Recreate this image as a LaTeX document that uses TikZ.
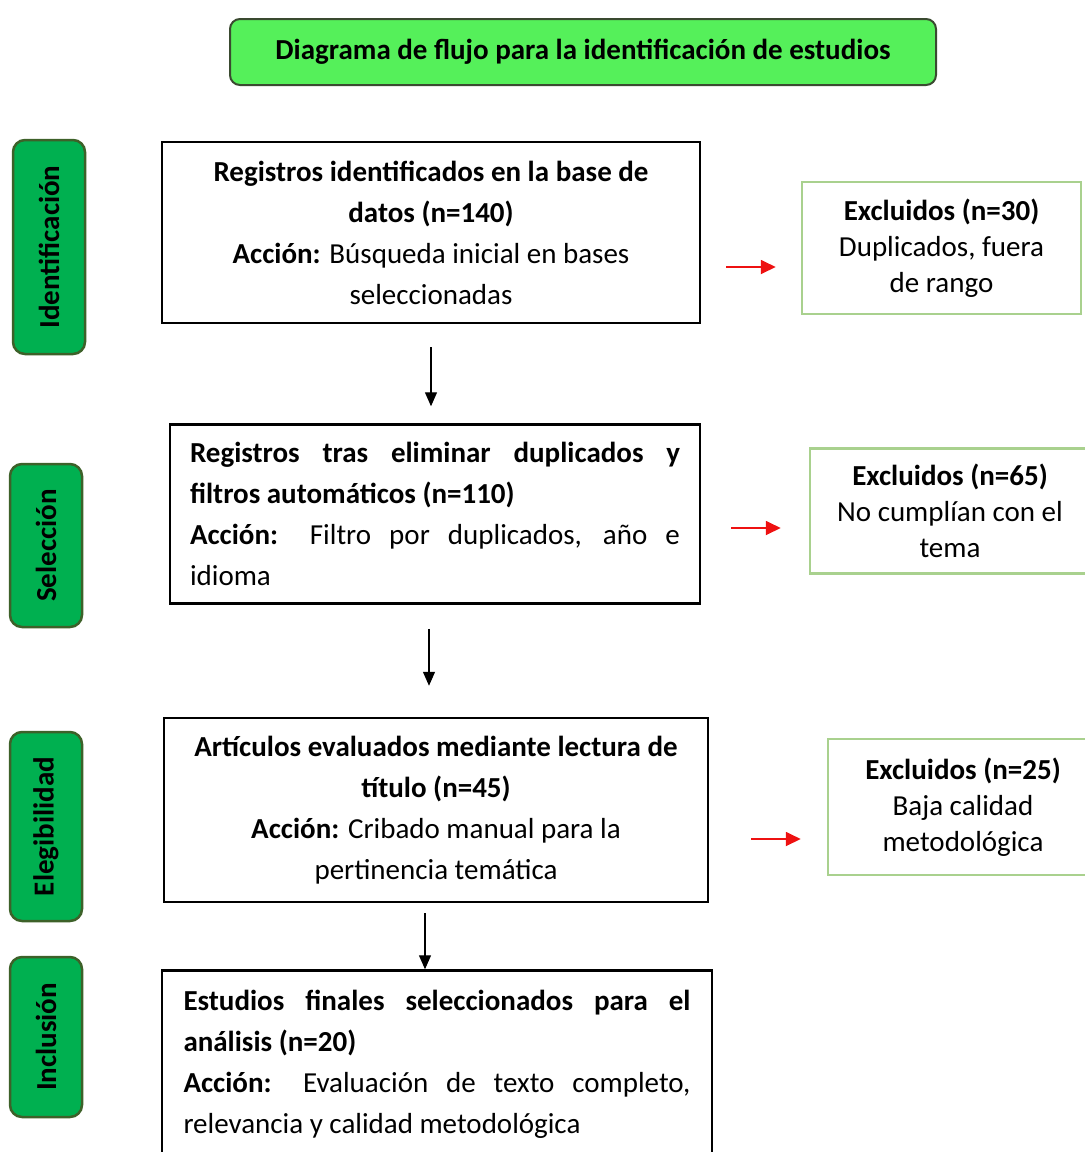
\documentclass[tikz,border=0pt]{standalone}
\usepackage{fontspec}
\setmainfont{Carlito}
\usetikzlibrary{positioning,arrows.meta}
\definecolor{titlegreen}{HTML}{55F05A}
\definecolor{titleline}{HTML}{3A4A30}
\definecolor{stagegreen}{HTML}{00B050}
\definecolor{stageline}{HTML}{3D6129}
\definecolor{exline}{HTML}{A9D18E}
\definecolor{exred}{HTML}{EE1111}

\begin{document}
\begin{tikzpicture}[
        x=1pt, y=-1pt,
        font=\fontsize{29}{41}\selectfont,
        titlebox/.style={draw=titleline, line width=2pt, rounded corners=10pt, fill=titlegreen, minimum width=706pt, minimum height=66pt, font=\fontsize{29}{35}\selectfont\bfseries},
        stage/.style={draw=stageline, line width=2.5pt, rounded corners=12pt, fill=stagegreen, rotate=90, minimum height=72pt, font=\fontsize{29}{35}\selectfont\bfseries},
        record/.style={draw, line width=2.5pt, inner sep=0pt},
        excluded/.style={draw=exline, line width=2.5pt, align=center, font=\fontsize{29}{36}\selectfont},
        arrow/.style={-{Triangle[length=14pt, width=12pt]}, line width=1.3pt},
        exarrow/.style={-{Triangle[length=15pt, width=14pt]}, line width=1.8pt, draw=exred}
    ]
    \useasboundingbox (0,0) rectangle (1085,1152);

    % Title
    \node[titlebox] (titulo) at (583,52) {Diagrama de flujo para la identificación de estudios};

    % Stages (left column)
    \node[stage, minimum width=214pt] (ident) at (49,247) {Identificación};
    \node[stage, minimum width=163pt] (selec) at (46,545.5) {Selección};
    \node[stage, minimum width=189pt] (eleg) at (46,826.5) {Elegibilidad};
    \node[stage, minimum width=160pt] (incl) at (46,1037) {Inclusión};

    % Main flow
    \node[record, minimum width=538pt, minimum height=181pt, align=center] (reg1) at (431,232.5) {
        \textbf{Registros identificados en la base de}\\
        \textbf{datos (n=140)}\\
        \textbf{Acción:} Búsqueda inicial en bases\\
        seleccionadas
    };
    \node[record, text width=490pt, inner xsep=20pt, minimum height=179pt, align=justify, below=99pt of reg1, xshift=4pt] (reg2) {
        \textbf{Registros tras eliminar duplicados y\linebreak filtros automáticos (n=110)}\par
        \textbf{Acción:} Filtro por duplicados, año e\linebreak idioma
    };
    \node[record, minimum width=544pt, minimum height=184pt, align=center, below=112pt of reg2, xshift=1pt] (rev) {
        \textbf{Artículos evaluados mediante lectura de}\\
        \textbf{título (n=45)}\\
        \textbf{Acción:} Cribado manual para la\\
        pertinencia temática
    };
    \node[record, text width=507pt, inner xsep=21.5pt, minimum height=187pt, align=justify, below=66pt of rev, xshift=1pt] (fin) {
        \textbf{Estudios finales seleccionados para el\linebreak análisis (n=20)}\par
        \textbf{Acción:} Evaluación de texto completo,\linebreak relevancia y calidad metodológica
    };

    % Excluded records
    \node[excluded, minimum width=279pt, minimum height=132pt] (exc1) at (941.5,248) {
        \textbf{Excluidos (n=30)}\\ Duplicados, fuera\\ de rango
    };
    \node[excluded, minimum width=280pt, minimum height=125pt] (exc2) at (950,511) {
        \textbf{Excluidos (n=65)}\\ No cumplían con el\\ tema
    };
    \node[excluded, minimum width=270pt, minimum height=136pt] (exc3) at (963,807) {
        \textbf{Excluidos (n=25)}\\ Baja calidad\\ metodológica
    };

    % Lines
    \draw[arrow, shorten <=23pt, shorten >=17pt] (reg1.south) -- (reg1.south |- reg2.north);
    \draw[arrow, shorten <=24pt, shorten >=31pt] ([xshift=-6pt]reg2.south) -- ([xshift=-6pt]reg2.south |- rev.north);
    \draw[arrow, shorten <=10pt] ([xshift=-11pt]rev.south) -- ([xshift=-11pt]rev.south |- fin.north);

    \draw[exarrow, shorten <=25pt, shorten >=25pt] (reg1.east |- 0,267) -- (exc1.west |- 0,267);
    \draw[exarrow, shorten <=30pt, shorten >=28pt] (reg2.east |- 0,528) -- (exc2.west |- 0,528);
    \draw[exarrow, shorten <=42pt, shorten >=26pt] (rev.east |- 0,839) -- (exc3.west |- 0,839);

\end{tikzpicture}
\end{document}
